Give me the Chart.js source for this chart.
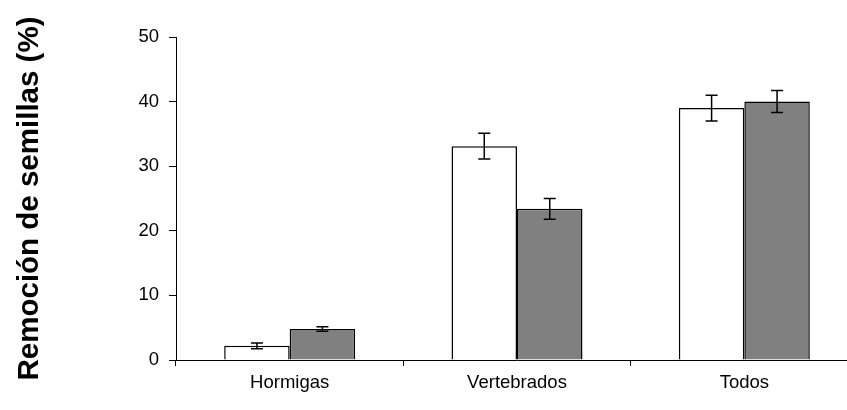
<!DOCTYPE html>
<html>
<head>
<meta charset="utf-8">
<script src="https://cdn.jsdelivr.net/npm/chart.js@4.4.1/dist/chart.umd.min.js"></script>
<style>
  html, body { margin: 0; padding: 0; background: #fff; overflow: hidden; }
  #wrap { width: 860px; height: 410px; }
</style>
</head>
<body>
<div id="wrap"><canvas id="c" width="860" height="410"></canvas></div>
<script>
const categories = ["Hormigas", "Vertebrados", "Todos"];
const seriesA = [2.2, 33.1, 39.0];
const seriesB = [4.8, 23.4, 40.0];
const errorsA = [0.45, 2.0, 2.0];
const errorsB = [0.35, 1.6, 1.7];
const yTicks = [0, 10, 20, 30, 40, 50];

const errorBarPlugin = {
  id: 'errorBars',
  afterDatasetsDraw(chart) {
    const ctx = chart.ctx;
    const yScale = chart.scales.y;
    const errs = [errorsA, errorsB];
    ctx.save();
    ctx.strokeStyle = '#000';
    ctx.lineWidth = 1.5;
    chart.data.datasets.forEach((ds, di) => {
      const meta = chart.getDatasetMeta(di);
      meta.data.forEach((bar, i) => {
        const v = ds.data[i], e = errs[di][i];
        const x = bar.x;
        const yTop = yScale.getPixelForValue(v + e);
        const yBot = yScale.getPixelForValue(v - e);
        const cap = 6;
        ctx.beginPath();
        ctx.moveTo(x, yTop); ctx.lineTo(x, yBot);
        ctx.moveTo(x - cap, yTop); ctx.lineTo(x + cap, yTop);
        ctx.moveTo(x - cap, yBot); ctx.lineTo(x + cap, yBot);
        ctx.stroke();
      });
    });
    ctx.restore();
  }
};

new Chart(document.getElementById('c'), {
  type: 'bar',
  data: {
    labels: categories,
    datasets: [
      { data: seriesA, backgroundColor: '#ffffff', borderColor: '#000', borderWidth: 1.5, categoryPercentage: 0.576, barPercentage: 1.0 },
      { data: seriesB, backgroundColor: '#808080', borderColor: '#000', borderWidth: 1.5, categoryPercentage: 0.576, barPercentage: 1.0 }
    ]
  },
  options: {
    responsive: false,
    animation: false,
    layout: { padding: { top: 37, right: 2, left: 0, bottom: 0 } },
    plugins: { legend: { display: false }, tooltip: { enabled: false } },
    scales: {
      x: {
        grid: { offset: true, drawOnChartArea: false, drawTicks: true, tickLength: 6, color: '#000', lineWidth: 1 },
        border: { color: '#000', width: 1 },
        ticks: { color: '#000', font: { family: 'Liberation Sans', size: 18.5 }, padding: 6 },
        afterFit(scale) { scale.height = 50; }
      },
      y: {
        min: 0, max: 50,
        afterBuildTicks(scale) { scale.ticks = yTicks.map(v => ({ value: v })); },
        grid: { drawOnChartArea: false, drawTicks: true, tickLength: 7, color: '#000', lineWidth: 1 },
        border: { color: '#000', width: 1 },
        ticks: { color: '#000', font: { family: 'Liberation Sans', size: 18.5 }, padding: 10 },
        title: { display: true, text: 'Remoción de semillas (%)', color: '#000', font: { family: 'Liberation Sans', size: 29.5, weight: 'bold' }, padding: { top: 12, bottom: 0 } },
        afterFit(scale) { scale.width = 176; }
      }
    }
  },
  plugins: [errorBarPlugin]
});
</script>
</body>
</html>
